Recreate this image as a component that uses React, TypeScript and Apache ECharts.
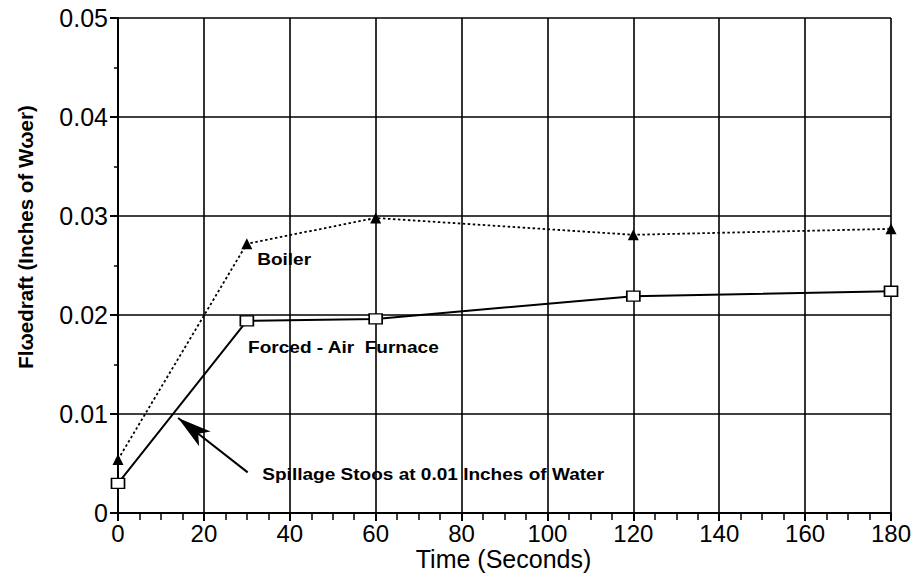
import React, { useEffect, useRef } from "react";
import * as echarts from "echarts";

const timeSeconds = [0, 30, 60, 120, 180];
const boilerValues = [0.0054, 0.0272, 0.0298, 0.0281, 0.0287];
const furnaceValues = [0.003, 0.0194, 0.0196, 0.0219, 0.0224];
const xTickValues = [0, 20, 40, 60, 80, 100, 120, 140, 160, 180];
const yTickValues = [0, 0.01, 0.02, 0.03, 0.04, 0.05];

const xAxisTitle = "Time (Seconds)";
const yAxisTitle = "Flωedraft (Inches of Wωer)";

// annotation anchors in data space
const annotations = [
  { text: "Boiler", x: 32.4, y: 0.0256 },
  { text: "Forced - Air  Furnace", x: 30.3, y: 0.0167 },
  { text: "Spillage Stoos at 0.01 Inches of Water", x: 33.6, y: 0.0039 },
];
const arrowFrom = [30.2, 0.0041];
const arrowTo = [14, 0.0096];

const FONT = "'Liberation Sans', Arial, sans-serif";

export default function App() {
  const ref = useRef<HTMLDivElement>(null);
  useEffect(() => {
    if (!ref.current) return;
    const chart = echarts.init(ref.current, null, { renderer: "svg" });
    const option: any = {
      animation: false,
      backgroundColor: "#fff",
      grid: { left: 118, right: 27, top: 18, bottom: 65 },
      xAxis: {
        type: "value",
        min: xTickValues[0],
        max: xTickValues[xTickValues.length - 1],
        interval: 20,
        axisLine: { show: true, lineStyle: { color: "#000", width: 2 } },
        axisTick: { show: true, inside: false, length: 8, lineStyle: { color: "#000", width: 2 } },
        minorTick: { show: true, splitNumber: 4, length: 7, lineStyle: { color: "#000", width: 1.5 } },
        splitLine: { show: true, lineStyle: { color: "#000", width: 1.6 } },
        axisLabel: { color: "#000", fontSize: 24, fontFamily: FONT, margin: 8 },
      },
      yAxis: {
        type: "value",
        min: yTickValues[0],
        max: yTickValues[yTickValues.length - 1],
        interval: 0.01,
        axisLine: { show: true, lineStyle: { color: "#000", width: 2 } },
        axisTick: { show: true, inside: false, length: 8, lineStyle: { color: "#000", width: 2 } },
        minorTick: { show: true, splitNumber: 2, length: 4, lineStyle: { color: "#000", width: 1.5 } },
        splitLine: { show: true, lineStyle: { color: "#000", width: 1.6 } },
        axisLabel: {
          color: "#000",
          fontSize: 25,
          fontFamily: FONT,
          margin: 10,
          formatter: (v: number) => (v === 0 ? "0" : v.toFixed(2)),
        },
      },
      series: [
        {
          name: "Boiler",
          type: "line",
          data: timeSeconds.map((t, i) => [t, boilerValues[i]]),
          symbol: "triangle",
          symbolSize: 11,
          itemStyle: { color: "#000" },
          lineStyle: { color: "#000", width: 1.8, type: [2.5, 2.5] },
          clip: false,
          z: 5,
        },
        {
          name: "Forced - Air Furnace",
          type: "line",
          data: timeSeconds.map((t, i) => [t, furnaceValues[i]]),
          symbol: "rect",
          symbolSize: [13, 10],
          itemStyle: { color: "#fff", borderColor: "#000", borderWidth: 1.5 },
          lineStyle: { color: "#000", width: 2 },
          clip: false,
          z: 5,
          markLine: {
            silent: true,
            symbol: ["none", "arrow"],
            symbolSize: [14, 34],
            label: { show: false },
            lineStyle: { color: "#000", width: 2, type: "solid" },
            data: [[{ coord: arrowFrom }, { coord: arrowTo }]],
          },
        },
      ],
    };
    chart.setOption(option);

    const graphics: any[] = annotations.map((a) => {
      const p = chart.convertToPixel({ gridIndex: 0 }, [a.x, a.y]) as number[];
      return {
        type: "text",
        x: p[0],
        y: p[1],
        scaleX: 1.12,
        style: {
          text: a.text,
          fill: "#000",
          font: `bold 17px ${FONT}`,
          textAlign: "left",
          textVerticalAlign: "middle",
        },
        z: 10,
      };
    });
    const rect = { left: 118, right: 918 - 27 };
    graphics.push({
      type: "text",
      x: (rect.left + rect.right) / 2 - 1,
      y: 559,
      style: {
        text: xAxisTitle,
        fill: "#000",
        font: `25px ${FONT}`,
        textAlign: "center",
        textVerticalAlign: "middle",
      },
    });
    graphics.push({
      type: "text",
      x: 25,
      y: 237,
      rotation: Math.PI / 2,
      style: {
        text: yAxisTitle,
        fill: "#000",
        font: `bold 20.5px ${FONT}`,
        textAlign: "center",
        textVerticalAlign: "middle",
      },
    });
    chart.setOption({ graphic: graphics });

    return () => chart.dispose();
  }, []);
  return (
    <div
      ref={ref}
      style={{ position: "absolute", left: 0, top: 0, width: 918, height: 578 }}
    />
  );
}
